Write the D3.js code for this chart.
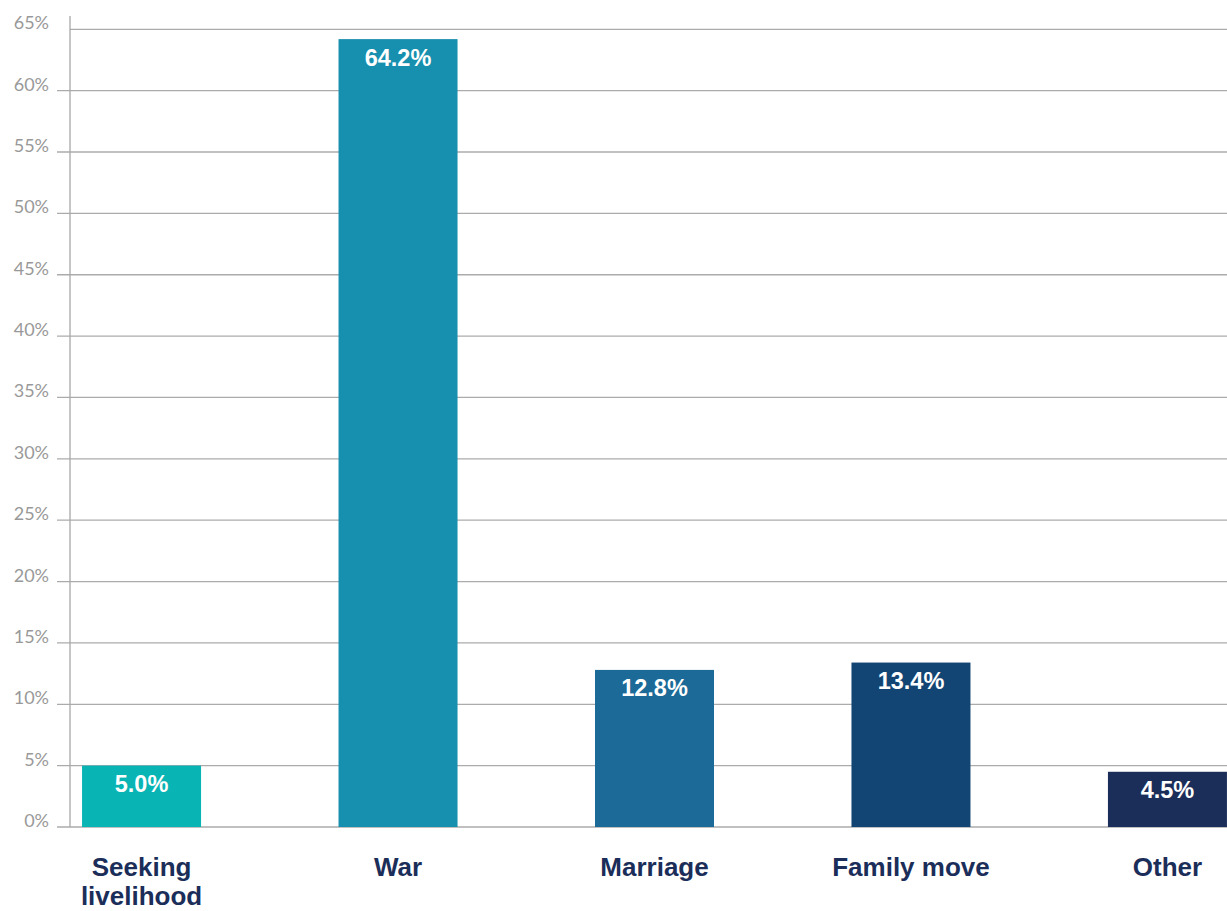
<!DOCTYPE html>
<html><head><meta charset="utf-8">
<script src="https://cdn.jsdelivr.net/npm/d3@7"></script>
<style>body{margin:0;background:#fff}svg{display:block}</style>
</head><body>
<svg id="c" width="1227" height="911"></svg>
<script>
const categories = [["Seeking","livelihood"],["War"],["Marriage"],["Family move"],["Other"]];
const values = [5.0, 64.2, 12.8, 13.4, 4.5];
const colors = ["#08b4b4","#178fae","#1b6a97","#134574","#1b2e59"];
const tickValues = [0,5,10,15,20,25,30,35,40,45,50,55,60,65];

const svg = d3.select("#c");
const y = d3.scaleLinear().domain([0,65]).range([827,29.3]);
const x = d3.scaleBand().domain(d3.range(values.length)).range([70,1239]).paddingInner(0.536).paddingOuter(0.047);

// gridlines
svg.append("g").selectAll("line").data(tickValues).join("line")
  .attr("x1", d => d===65 ? 70 : 57).attr("x2", 1227)
  .attr("y1", d => y(d)).attr("y2", d => y(d))
  .attr("stroke", "#ababab").attr("stroke-width", 1.3);
// axis line
svg.append("line").attr("x1",70).attr("x2",70).attr("y1",16).attr("y2",827)
  .attr("stroke","#a8a8a8").attr("stroke-width",1.3);
// tick labels
svg.append("g").selectAll("text").data(tickValues).join("text")
  .attr("x", 49).attr("y", d => y(d)).attr("text-anchor","end")
  .attr("font-family","Lato, sans-serif").attr("font-size",18).attr("fill","#999")
  .text(d => d + "%");
// bars
svg.append("g").selectAll("rect").data(values).join("rect")
  .attr("x",(d,i)=>x(i)).attr("width",x.bandwidth())
  .attr("y",d=>y(d)).attr("height",d=>y(0)-y(d))
  .attr("fill",(d,i)=>colors[i]);
// value labels
svg.append("g").selectAll("text").data(values).join("text")
  .attr("x",(d,i)=>x(i)+x.bandwidth()/2).attr("y",d=>y(d)+26.5)
  .attr("text-anchor","middle").attr("font-family","'Liberation Sans', Arial, sans-serif")
  .attr("font-weight","bold").attr("font-size",23.5).attr("fill","#fff")
  .text(d => d.toFixed(1) + "%");
// category labels
const cl = svg.append("g").selectAll("text").data(categories).join("text")
  .attr("x",(d,i)=>x(i)+x.bandwidth()/2).attr("y",876)
  .attr("text-anchor","middle").attr("font-family","'Liberation Sans', Arial, sans-serif")
  .attr("font-weight","bold").attr("font-size",26).attr("fill","#1b2e59");
cl.each(function(d,i){
  const t=d3.select(this);
  d.forEach((line,j)=>t.append("tspan").attr("x",x(i)+x.bandwidth()/2).attr("dy",j===0?0:28.5).text(line));
});
</script>
</body></html>
